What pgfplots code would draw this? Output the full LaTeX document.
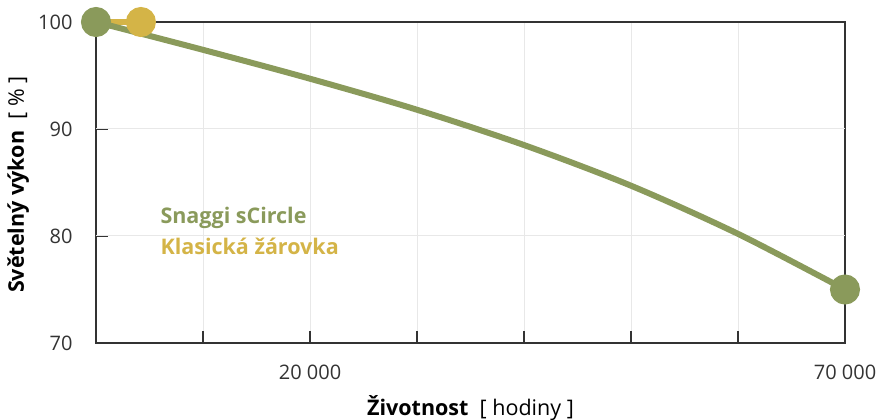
\documentclass[border=0pt]{standalone}
\usepackage{pgfplots}
\pgfplotsset{compat=1.18}
\usepackage{fontspec}
\setmainfont{Open Sans}
\definecolor{sgreen}{HTML}{8A9A5B}
\definecolor{syellow}{HTML}{D4B447}
\definecolor{gridc}{HTML}{E8E8E8}
\definecolor{axc}{HTML}{333333}
\begin{document}
\begin{tikzpicture}
\useasboundingbox (0,0) rectangle (882bp,420bp);
\begin{axis}[
  at={(96bp,77bp)}, anchor=south west,
  scale only axis, width=749bp, height=321bp,
  xmin=0, xmax=70000, ymin=70, ymax=100,
  clip=false,
  scaled x ticks=false,
  axis line style={axc, line width=1.3bp},
  xtick={10000,20000,30000,40000,50000,60000,70000},
  xticklabels={,20 000,,,,,70 000},
  ytick={70,80,90,100},
  yticklabels={70,80,90,100},
  tick align=inside, major tick length=12bp,
  tick style={axc, line width=1.3bp},
  xtick pos=bottom, ytick pos=left,
  xmajorgrids, 
  extra y ticks={80,90}, extra y tick labels={},
  extra y tick style={grid=major, tick style={draw=none}},
  grid style={gridc, line width=1bp},
  ticklabel style={font=\fontsize{20bp}{24bp}\selectfont, text=axc},
  /pgf/number format/assume math mode=true,
  xticklabel style={yshift=-18bp},
  yticklabel style={xshift=-20bp},
  xlabel={\textbf{Životnost}\ \ [ hodiny ]},
  ylabel={\textbf{Světelný výkon}\ \ [ \% ]},
  label style={font=\fontsize{21.5bp}{25bp}\selectfont, text=black},
  xlabel style={at={(axis description cs:0.5,-0.2025)}, anchor=center},
  ylabel style={at={(axis description cs:-0.104,0.493)}, anchor=center},
]
\addplot[syellow, line width=6bp, mark=*, mark size=12bp, mark options={fill=syellow, draw=none}, mark indices={2}] coordinates {(0,100) (4200,100)};
\addplot[sgreen, line width=6bp, smooth, mark=*, mark size=12bp, mark options={fill=sgreen, draw=none}, mark indices={1,8}] coordinates {
(0,100) (10000,97.4) (20000,94.7) (30000,91.8) (40000,88.5) (50000,84.7) (60000,80.2) (70000,75)};
\node[anchor=west, text=sgreen, font=\fontsize{21.5bp}{25bp}\selectfont\bfseries] at (axis cs:5700,81.7) {Snaggi sCircle};
\node[anchor=west, text=syellow, font=\fontsize{21.5bp}{25bp}\selectfont\bfseries] at (axis cs:5700,79.07) {Klasická žárovka};
\end{axis}
\end{tikzpicture}
\end{document}
